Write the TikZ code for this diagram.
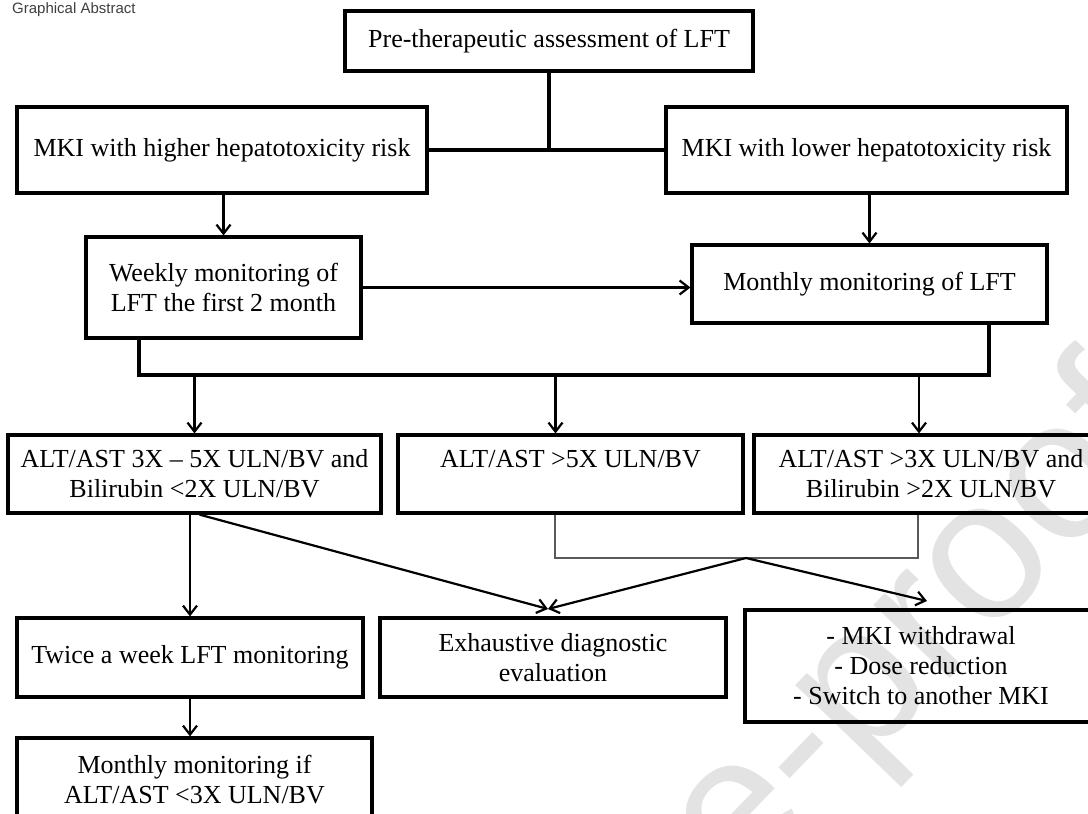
\documentclass[tikz,border=0pt]{standalone}
\usepackage{fontspec}
\setmainfont{Liberation Serif}
\setsansfont{Liberation Sans}
\usetikzlibrary{arrows.meta}
\tikzset{
  box/.style={draw, line width=3.2pt, inner sep=0pt, align=center, font=\fontsize{26}{30}\selectfont},
  arr/.style={line width=2.2pt, -{Straight Barb[length=9pt,width=14pt]}},
  thk/.style={line width=3.2pt},
  brk/.style={line width=1.9pt, draw=black!65},
}
\begin{document}
\begin{tikzpicture}[x=1pt,y=-1pt]
\useasboundingbox (0,0) rectangle (1088,814);
\clip (0,0) rectangle (1088,814);
\fill[white] (0,0) rectangle (1088,814);
% watermark
\node[rotate=46, anchor=base east, inner sep=0pt, text=black!11,
      font=\sffamily\fontsize{200}{200}\selectfont] (wm) at (1180,440) {Journal Pre-proof};
% title
\node[anchor=west, inner sep=0pt, text=black!75, font=\sffamily\fontsize{15}{15}\selectfont] (ga) at (12,10) {Graphical Abstract};
% boxes
\node[box, minimum width=408pt, minimum height=60pt] (T) at (549,41) {Pre-therapeutic assessment of LFT};
\node[box, minimum width=410pt, minimum height=86pt] (L1) at (222,150) {MKI with higher hepatotoxicity risk};
\node[box, minimum width=401pt, minimum height=86pt] (R1) at (866.5,150) {MKI with lower hepatotoxicity risk};
\node[box, minimum width=275pt, minimum height=101pt] (W) at (223.5,287.5) {Weekly monitoring of\\LFT the first 2 month};
\node[box, minimum width=355pt, minimum height=78pt] (M) at (869.5,284) {Monthly monitoring of LFT};
\node[box, minimum width=373pt, minimum height=78pt] (A1) at (194.5,474) {ALT/AST 3X – 5X ULN/BV and\\Bilirubin <2X ULN/BV};
\node[box, minimum width=345pt, minimum height=78pt] (A2) at (570.5,474) {ALT/AST >5X ULN/BV\\\phantom{Bilirubin}};
\node[box, minimum width=354pt, minimum height=78pt] (A3) at (931,474) {ALT/AST >3X ULN/BV and\\Bilirubin >2X ULN/BV};
\node[box, minimum width=346pt, minimum height=79pt] (Tw) at (190,657.5) {Twice a week LFT monitoring};
\node[box, minimum width=346pt, minimum height=79pt] (E) at (553,657.5) {Exhaustive diagnostic\\evaluation};
\node[box, minimum width=352pt, minimum height=112pt] (Ac) at (921,666) {- MKI withdrawal\\- Dose reduction\\- Switch to another MKI};
\node[box, minimum width=355pt, minimum height=84pt] (Mo) at (194.5,780) {Monthly monitoring if\\ALT/AST <3X ULN/BV};
% connectors
\draw[thk] (T.south) -- (T.south |- L1.east);
\draw[thk] (L1.east) -- (R1.west);
\draw[arr] (W.north |- L1.south) -- (W.north);
\draw[arr] (M.north |- R1.south) -- (M.north);
\draw[arr] (W.east) -- (W.east -| M.west);
\coordinate (jl) at (139,375);
\coordinate (jr) at (989,375);
\draw[thk] (W.south -| jl) -- (jl) -- (jr) -- (M.south -| jr);
\draw[arr] (A1.north |- jl) -- (A1.north);
\draw[arr] ([xshift=-15pt]A2.north |- jl) -- ([xshift=-15pt]A2.north);
\draw[arr] ([xshift=-12pt]A3.north |- jl) -- ([xshift=-12pt]A3.north);
\coordinate (bl) at (555,558);
\coordinate (br) at (918,558);
\coordinate (apex) at (746,558);
\draw[brk] (A2.south -| bl) -- (bl) -- (br) -- (A3.south -| br);
\coordinate (c1) at (548,609);
\coordinate (c2) at (927,601);
\draw[arr] (apex) -- (c1);
\draw[arr] (apex) -- (c2);
\draw[arr] ([xshift=5pt]A1.south) -- (c1);
\draw[arr] (Tw.north |- A1.south) -- (Tw.north);
\draw[arr] (Tw.south) -- (Tw.south |- Mo.north);
\end{tikzpicture}
\end{document}
